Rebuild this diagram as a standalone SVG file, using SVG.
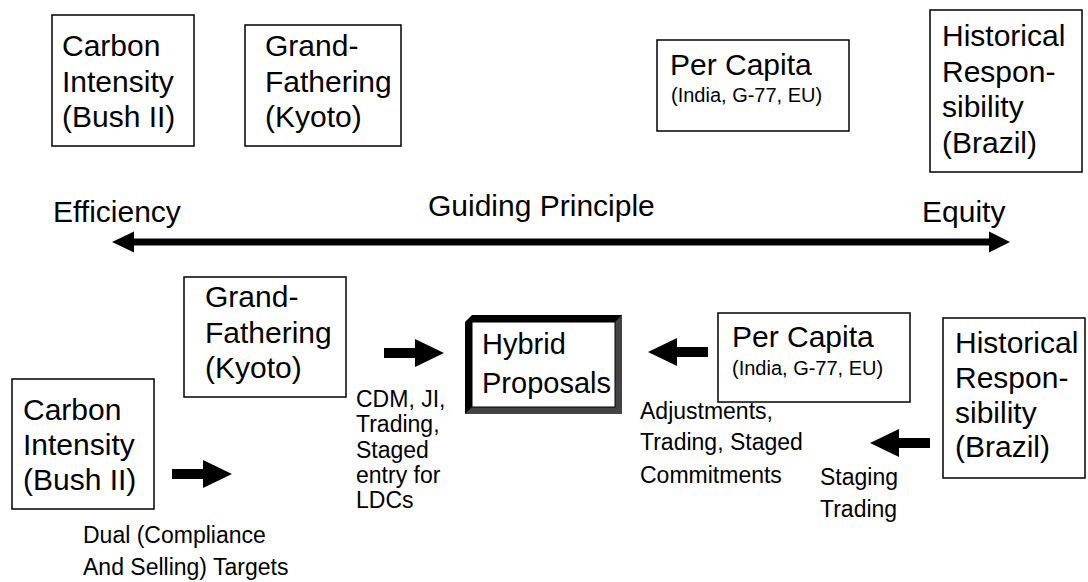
<svg xmlns="http://www.w3.org/2000/svg" width="1088" height="582" viewBox="0 0 1088 582">
<style>
.box{fill:#fff;stroke:#000;stroke-width:1.5}
.t{font-family:"Liberation Sans",Arial,sans-serif;font-size:30px;fill:#000}
.s{font-family:"Liberation Sans",Arial,sans-serif;font-size:20px;fill:#000}
.l{font-family:"Liberation Sans",Arial,sans-serif;font-size:23px;fill:#000}
.blk{fill:#000}
</style>
<defs>
<path id="barrow" d="M0,-5 L31,-5 L31,-14 L60,0 L31,14 L31,5 L0,5 Z"/>
</defs>
<rect width="1088" height="582" fill="#fff"/>

<g id="top-carbon">
<rect class="box" x="52" y="15" width="142" height="131"/>
<text class="t" x="62" y="56">Carbon</text>
<text class="t" x="62" y="92">Intensity</text>
<text class="t" x="62" y="127">(Bush II)</text>
</g>
<g id="top-grand">
<rect class="box" x="245" y="25" width="156" height="121"/>
<text class="t" x="265" y="56">Grand-</text>
<text class="t" x="265" y="92">Fathering</text>
<text class="t" x="265" y="127">(Kyoto)</text>
</g>
<g id="top-percapita">
<rect class="box" x="657" y="40" width="192" height="91"/>
<text class="t" x="670" y="75">Per Capita</text>
<text class="s" x="671" y="102">(India, G-77, EU)</text>
</g>
<g id="top-historical">
<rect class="box" x="930" y="10" width="152" height="162"/>
<text class="t" x="942" y="46">Historical</text>
<text class="t" x="942" y="82">Respon-</text>
<text class="t" x="942" y="117">sibility</text>
<text class="t" x="942" y="153">(Brazil)</text>
</g>

<g id="axis">
<text class="t" x="53" y="222">Efficiency</text>
<text class="t" x="428" y="216">Guiding Principle</text>
<text class="t" x="922" y="222">Equity</text>
</g>

<g id="bottom-grand">
<rect class="box" x="184" y="277" width="162" height="120"/>
<text class="t" x="205" y="307">Grand-</text>
<text class="t" x="205" y="343">Fathering</text>
<text class="t" x="205" y="378">(Kyoto)</text>
</g>
<g id="bottom-carbon">
<rect class="box" x="12" y="379" width="142" height="130"/>
<text class="t" x="23" y="420">Carbon</text>
<text class="t" x="23" y="455">Intensity</text>
<text class="t" x="23" y="490">(Bush II)</text>
</g>
<g id="hybrid">
<path fill="#000" d="M472,315 L622,315 L622,414 L465,414 L465,322 Z"/>
<path fill="#444" d="M622,315 L622,414 L465,414 L472,407 L615,407 L615,322 Z"/>
<rect fill="#fff" stroke="#000" stroke-width="1" x="472" y="322" width="143" height="85"/>
<text class="t" x="482" y="354" style="font-size:29px">Hybrid</text>
<text class="t" x="482" y="393" style="font-size:29px">Proposals</text>
</g>
<g id="bottom-percapita">
<rect class="box" x="718" y="313" width="192" height="89"/>
<text class="t" x="732" y="347">Per Capita</text>
<text class="s" x="732" y="375">(India, G-77, EU)</text>
</g>
<g id="bottom-historical">
<rect class="box" x="943" y="318" width="142" height="160"/>
<text class="t" x="955" y="353">Historical</text>
<text class="t" x="955" y="388">Respon-</text>
<text class="t" x="955" y="423">sibility</text>
<text class="t" x="955" y="457">(Brazil)</text>
</g>

<g id="labels">
<text class="l" x="83" y="543">Dual (Compliance</text>
<text class="l" x="83" y="575">And Selling) Targets</text>
<text class="l" x="356" y="407">CDM, JI,</text>
<text class="l" x="356" y="432">Trading,</text>
<text class="l" x="356" y="458">Staged</text>
<text class="l" x="356" y="483">entry for</text>
<text class="l" x="356" y="508">LDCs</text>
<text class="l" x="640" y="419">Adjustments,</text>
<text class="l" x="640" y="450">Trading, Staged</text>
<text class="l" x="640" y="483">Commitments</text>
<text class="l" x="820" y="485">Staging</text>
<text class="l" x="820" y="517">Trading</text>
</g>

<g id="connectors">
<rect class="blk" x="134" y="238.5" width="855" height="7"/>
<polygon class="blk" points="112,242 134,231.5 134,252.5"/>
<polygon class="blk" points="1010,242 989,231.5 989,252.5"/>
<use href="#barrow" transform="translate(172,474)"/>
<use href="#barrow" transform="translate(384,353)"/>
<use href="#barrow" transform="translate(708,352) scale(-1,1)"/>
<use href="#barrow" transform="translate(930,443) scale(-1,1)"/>
</g>
</svg>
